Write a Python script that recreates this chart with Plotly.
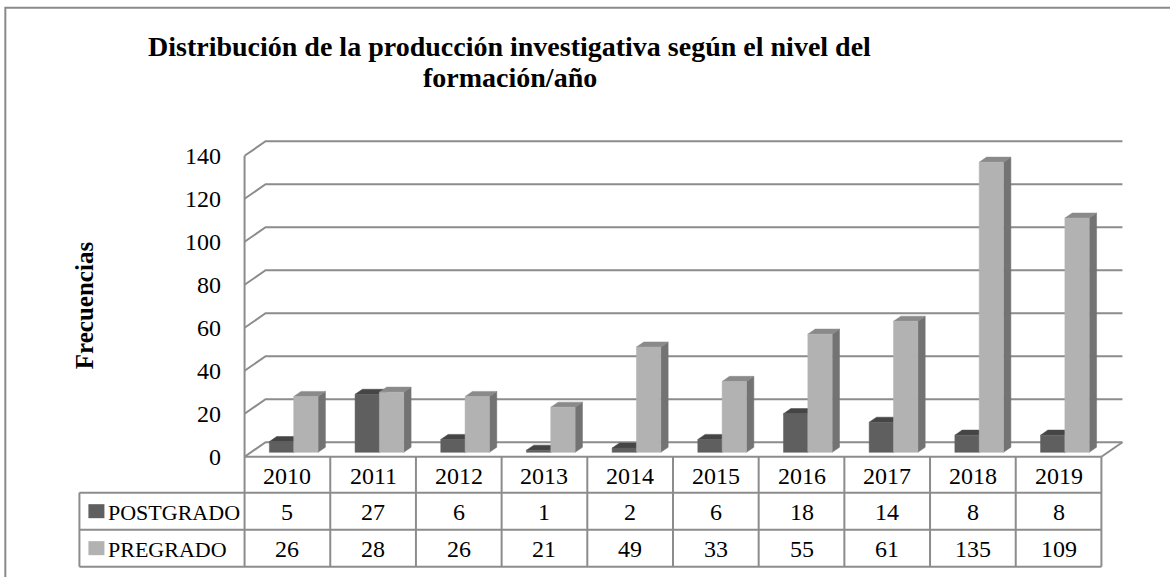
import plotly.graph_objects as go

# data
years = ['2010', '2011', '2012', '2013', '2014', '2015', '2016', '2017', '2018', '2019']
postgrado = [5, 27, 6, 1, 2, 6, 18, 14, 8, 8]
pregrado = [26, 28, 26, 21, 49, 33, 55, 61, 135, 109]
series_names = ['POSTGRADO', 'PREGRADO']
y_ticks = [0, 20, 40, 60, 80, 100, 120, 140]
title_lines = ['Distribución de la producción investigativa según el nivel del', 'formación/año']
y_title = 'Frecuencias'

FONT = 'Liberation Serif'
W, H = 1170, 577
GRID = '#8c8c8c'

# 3d box geometry in pixels
AX_X, FLOOR_Y = 245, 457
COL = 85.6              # px per category
UY = 301 / 140          # px per unit of value
DX, DY = 21, 14.5       # depth offset of the back wall
dxu, dyu = DX / COL, DY / UY

xr = [-0.1, len(years) + dxu + 0.1]
yr = [-2, y_ticks[-1] + dyu + 2]
ml = AX_X + xr[0] * COL
PW = (xr[1] - xr[0]) * COL
mr = W - ml - PW
mb = H - (FLOOR_Y - yr[0] * UY)
PH = (yr[1] - yr[0]) * UY
mt = H - mb - PH


def px_x(px):
    return (px - ml) / PW


def px_y(py):
    return (H - mb - py) / PH


def dx_paper(x):
    return (x - xr[0]) / (xr[1] - xr[0])


fig = go.Figure()

# bars: front / top / side faces, drawn through the axes
BW = 0.284
F0, F1 = 0.3, 0.65
styles = [
    dict(front='#5f5f5f', top='#454545', side='#4f4f4f'),
    dict(front='#b2b2b2', top='#8a8a8a', side='#737373'),
]
sdx, sdy = (F1 - F0) * dxu, (F1 - F0) * dyu
for s, vals in enumerate([postgrado, pregrado]):
    faces = {'side': ([], []), 'top': ([], []), 'front': ([], [])}
    for i, v in enumerate(vals):
        x0 = i + 0.5 - BW + s * BW + F0 * dxu
        x1 = x0 + BW
        yb = F0 * dyu
        yt = v + yb
        polys = {
            'front': [(x0, yb), (x1, yb), (x1, yt), (x0, yt)],
            'top': [(x0, yt), (x1, yt), (x1 + sdx, yt + sdy), (x0 + sdx, yt + sdy)],
            'side': [(x1, yb), (x1 + sdx, yb + sdy), (x1 + sdx, yt + sdy), (x1, yt)],
        }
        for k, pts in polys.items():
            faces[k][0].extend([p[0] for p in pts] + [pts[0][0], None])
            faces[k][1].extend([p[1] for p in pts] + [pts[0][1], None])
    for k in ['side', 'top', 'front']:
        fig.add_trace(go.Scatter(
            x=faces[k][0], y=faces[k][1], mode='lines', fill='toself',
            fillcolor=styles[s][k], line=dict(color=styles[s][k], width=0.5),
            name=series_names[s], showlegend=False, hoverinfo='skip'))

shapes = []
# back wall gridlines with the diagonal to the front edge
for v in y_ticks:
    shapes.append(dict(type='path', xref='x', yref='y', layer='below',
                       path=f'M 0 {v} L {dxu} {v + dyu} L {len(years) + dxu} {v + dyu}',
                       line=dict(color=GRID, width=2)))
shapes.append(dict(type='line', xref='x', yref='y', layer='below', x0=0, x1=0, y0=0, y1=y_ticks[-1],
                   line=dict(color=GRID, width=2)))
shapes.append(dict(type='line', xref='x', yref='y', layer='below', x0=len(years), x1=len(years) + dxu,
                   y0=0, y1=dyu, line=dict(color=GRID, width=2)))

# data table below the chart
rows_px = [FLOOR_Y, 493, 530, 567]
TAB_L = 80
for i in range(len(years) + 1):
    shapes.append(dict(type='line', xref='paper', yref='paper', x0=dx_paper(i), x1=dx_paper(i),
                       y0=px_y(rows_px[0]), y1=px_y(rows_px[-1]), line=dict(color=GRID, width=2)))
shapes.append(dict(type='line', xref='paper', yref='paper', x0=dx_paper(0), x1=dx_paper(len(years)),
                   y0=px_y(rows_px[0]), y1=px_y(rows_px[0]), line=dict(color=GRID, width=2)))
for py in rows_px[1:]:
    shapes.append(dict(type='line', xref='paper', yref='paper', x0=px_x(TAB_L), x1=dx_paper(len(years)),
                       y0=px_y(py), y1=px_y(py), line=dict(color=GRID, width=2)))
shapes.append(dict(type='line', xref='paper', yref='paper', x0=px_x(TAB_L), x1=px_x(TAB_L),
                   y0=px_y(rows_px[1]), y1=px_y(rows_px[-1]), line=dict(color=GRID, width=2)))

# outer chart border
shapes.append(dict(type='rect', xref='paper', yref='paper', x0=px_x(6), x1=px_x(1200),
                   y0=px_y(620), y1=px_y(8), line=dict(color='#8a8a8a', width=2)))

annotations = []
tfont = dict(family=FONT, size=22, color='black')
nfont = dict(family=FONT, size=24, color='black')
ann = dict(showarrow=False, xanchor='center', yanchor='middle')
for i, yv in enumerate(years):
    annotations.append(dict(ann, x=i + 0.5, xref='x', y=px_y((rows_px[0] + rows_px[1]) / 2 + 1),
                            yref='paper', text=yv, font=nfont))
for r, vals in enumerate([postgrado, pregrado]):
    yc = px_y((rows_px[r + 1] + rows_px[r + 2]) / 2 + 1)
    for i, v in enumerate(vals):
        annotations.append(dict(ann, x=i + 0.5, xref='x', y=yc, yref='paper', text=str(v), font=nfont))
    annotations.append(dict(ann, x=px_x(107), xref='paper', y=yc, yref='paper', text=series_names[r],
                            xanchor='left', font=tfont))
    shapes.append(dict(type='rect', xref='paper', yref='paper', x0=px_x(89), x1=px_x(105),
                       y0=px_y((rows_px[r + 1] + rows_px[r + 2]) / 2 + 7),
                       y1=px_y((rows_px[r + 1] + rows_px[r + 2]) / 2 - 7),
                       fillcolor=styles[r]['front'], line=dict(width=0)))

for line, yc in zip(title_lines, [47, 78]):
    annotations.append(dict(ann, x=px_x(510), y=px_y(yc), xref='paper', yref='paper',
                            text='<b>' + line + '</b>',
                            font=dict(family=FONT, size=28, color='black')))
annotations.append(dict(ann, x=px_x(85), y=px_y(305), xref='paper', yref='paper',
                        text='<b>' + y_title + '</b>', textangle=-90,
                        font=dict(family=FONT, size=25, color='black')))

fig.update_layout(
    width=W, height=H,
    margin=dict(l=ml, r=mr, t=mt, b=mb, pad=0),
    paper_bgcolor='white', plot_bgcolor='rgba(0,0,0,0)',
    showlegend=False,
    shapes=shapes, annotations=annotations,
    xaxis=dict(range=xr, visible=False, fixedrange=True),
    yaxis=dict(range=yr, tickvals=y_ticks, showgrid=False, zeroline=False, showline=False,
               ticks='', ticklabelstandoff=14, tickfont=nfont, fixedrange=True),
)

fig.write_html('out.html', config={'displayModeBar': False},
               post_script="document.body.style.margin = '0';")
